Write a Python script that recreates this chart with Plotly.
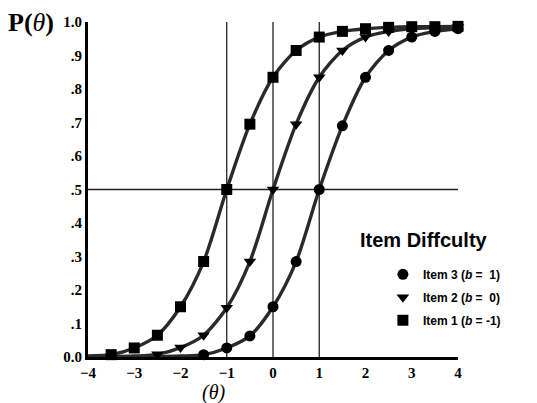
import plotly.graph_objects as go

# ---- data ----
theta = [-4.0, -3.5, -3.0, -2.5, -2.0, -1.5, -1.0, -0.5, 0.0, 0.5, 1.0, 1.5, 2.0, 2.5, 3.0, 3.5, 4.0]

item1_p = [0.003, 0.007, 0.027, 0.065, 0.15, 0.285, 0.50, 0.695, 0.835, 0.915, 0.955, 0.972, 0.98, 0.984, 0.986, 0.986, 0.987]
item2_p = [0.0, 0.001, 0.003, 0.008, 0.028, 0.065, 0.147, 0.285, 0.50, 0.695, 0.835, 0.915, 0.955, 0.972, 0.98, 0.983, 0.985]
item3_p = [0.0, 0.0, 0.0, 0.001, 0.003, 0.007, 0.027, 0.063, 0.15, 0.285, 0.50, 0.69, 0.835, 0.915, 0.955, 0.972, 0.98]

# first theta at which markers are drawn for each item
item1_marker_from = -3.5
item2_marker_from = -2.5
item3_marker_from = -1.5

difficulty = [1, 0, -1]
item_names = ["Item 3 (<i>b</i> =&nbsp;&nbsp;1)", "Item 2 (<i>b</i> =&nbsp;&nbsp;0)", "Item 1 (<i>b</i> = -1)"]
symbols = ["circle", "triangle-down", "square"]

y_tickvals = [0.0, 0.1, 0.2, 0.3, 0.4, 0.5, 0.6, 0.7, 0.8, 0.9, 1.0]
y_ticktext = ["0.0", ".1", ".2", ".3", ".4", ".5", ".6", ".7", ".8", ".9", "1.0"]
x_tickvals = [-4, -3, -2, -1, 0, 1, 2, 3, 4]

series = [(item3_p, item3_marker_from), (item2_p, item2_marker_from), (item1_p, item1_marker_from)]

fig = go.Figure()

serif = "Liberation Serif, Times New Roman, serif"
sans = "Liberation Sans, Arial, sans-serif"

# reference lines (at difficulties and P = .5)
for b in difficulty:
    fig.add_shape(type="line", xref="x", yref="y", x0=b, x1=b, y0=0, y1=1,
                  line=dict(color="#222", width=1.3), layer="below")
fig.add_shape(type="line", xref="x", yref="y", x0=-4, x1=4, y0=0.5, y1=0.5,
              line=dict(color="#222", width=1.3), layer="below")

for i, ((vals, start), name, sym) in enumerate(zip(series, item_names, symbols)):
    fig.add_trace(go.Scatter(x=theta, y=vals, mode="lines",
                             line=dict(color="#2a2a2a", width=3.4, shape="spline", smoothing=0.8),
                             showlegend=False, hoverinfo="skip", cliponaxis=False))
    mx = [t for t in theta if t >= start]
    my = [v for t, v in zip(theta, vals) if t >= start]
    fig.add_trace(go.Scatter(x=mx, y=my, mode="markers", name=name, legendgroup=f"g{i}",
                             marker=dict(symbol=sym, size=11, color="black"), cliponaxis=False))

fig.update_layout(
    width=537, height=403,
    margin=dict(l=88, r=79, t=22, b=46),
    paper_bgcolor="white", plot_bgcolor="white",
    showlegend=True,
    legend=dict(x=0.797, y=0.29, xanchor="left", yanchor="top",
                font=dict(family=sans, size=12, color="black", weight="bold"),
                tracegroupgap=4, bgcolor="rgba(0,0,0,0)"),
    xaxis=dict(range=[-4, 4], tickvals=x_tickvals, showgrid=False, zeroline=False,
               showline=True, linecolor="black", linewidth=3, ticks="",
               tickfont=dict(family=serif, size=15, color="black", weight="bold")),
    yaxis=dict(range=[0, 1], tickvals=y_tickvals, ticktext=y_ticktext, showgrid=False, zeroline=False,
               showline=True, linecolor="black", linewidth=3, ticks="",
               tickfont=dict(family=serif, size=15, color="black", weight="bold")),
)

# legend title
fig.add_annotation(xref="paper", yref="paper", x=0.73, y=0.349, xanchor="left", yanchor="middle",
                   text="<b>Item Diffculty</b>", showarrow=False,
                   font=dict(family=sans, size=20, color="black"))
# y-axis label
fig.add_annotation(xref="paper", yref="paper", x=-0.087, y=1.0, xanchor="right", yanchor="middle",
                   text="<b>P(</b><i>θ</i><b>)</b>", showarrow=False,
                   font=dict(family=serif, size=26, color="black"))
# x-axis label
fig.add_annotation(xref="paper", yref="paper", x=0.338, y=-0.105, xanchor="center", yanchor="middle",
                   text="<i>(θ)</i>", showarrow=False,
                   font=dict(family=serif, size=20, color="black"))

fig.write_html("out.html", config={"displayModeBar": False},
               post_script="document.body.style.margin='0px';")
